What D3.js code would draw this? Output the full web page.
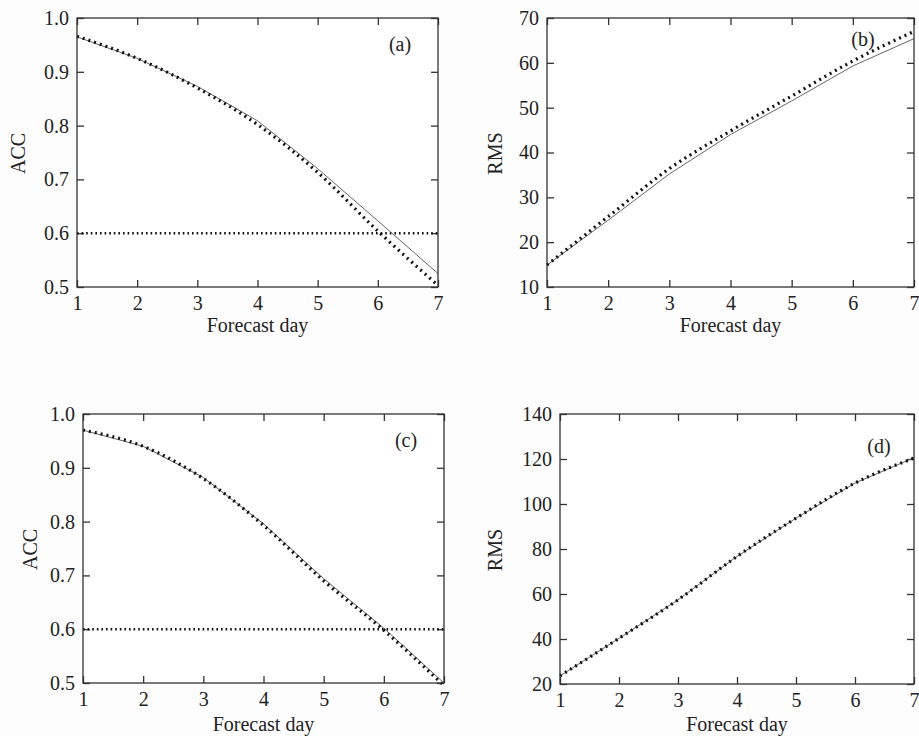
<!DOCTYPE html>
<html>
<head>
<meta charset="utf-8">
<script src="https://cdn.jsdelivr.net/npm/d3@7"></script>
<style>
  body { margin: 0; background: #fdfdfd; }
  text { font-family: "Liberation Serif", "Times New Roman", serif; fill: #222; }
</style>
</head>
<body>
<script>
// forecast days shared by every panel
const days = [1, 2, 3, 4, 5, 6, 7]

// (a) ACC, thin solid line and heavy dotted line
const accSolidA = [0.965, 0.925, 0.873, 0.809, 0.720, 0.623, 0.525]
const accDotA = [0.966, 0.925, 0.870, 0.802, 0.713, 0.604, 0.503]
// (b) RMS
const rmsSolidB = [14.9, 24.9, 35.2, 44.0, 51.5, 59.3, 65.4]
const rmsDotB = [14.9, 25.7, 36.4, 44.8, 52.6, 60.4, 67.0]
// (c) ACC
const accSolidC = [0.970, 0.940, 0.882, 0.796, 0.694, 0.602, 0.500]
const accDotC = [0.970, 0.940, 0.880, 0.793, 0.690, 0.598, 0.495]
// (d) RMS
const rmsSolidD = [23.6, 40.3, 57.4, 76.7, 93.7, 109.3, 120.6]
const rmsDotD = [23.6, 40.3, 57.4, 76.7, 93.7, 109.3, 120.4]

const accTicks = [0.5, 0.6, 0.7, 0.8, 0.9, 1.0]
const rmsTicksB = [10, 20, 30, 40, 50, 60, 70]
const rmsTicksD = [20, 40, 60, 80, 100, 120, 140]
const accThreshold = 0.6

const panels = [
  { tag: '(a)', ylab: 'ACC', solid: accSolidA, dot: accDotA, ticks: accTicks, fmt: d3.format('.1f'), ref: accThreshold,
    x0: 77, y0: 18, x1: 438, y1: 287, tagX: 400, tagY: 51, ylabX: 18, xlabY: 332 },
  { tag: '(b)', ylab: 'RMS', solid: rmsSolidB, dot: rmsDotB, ticks: rmsTicksB, fmt: d3.format('d'), ref: null,
    x0: 547, y0: 18, x1: 914, y1: 287, tagX: 863, tagY: 46, ylabX: 495, xlabY: 332 },
  { tag: '(c)', ylab: 'ACC', solid: accSolidC, dot: accDotC, ticks: accTicks, fmt: d3.format('.1f'), ref: accThreshold,
    x0: 83, y0: 414, x1: 444, y1: 683, tagX: 406, tagY: 447, ylabX: 30, xlabY: 731 },
  { tag: '(d)', ylab: 'RMS', solid: rmsSolidD, dot: rmsDotD, ticks: rmsTicksD, fmt: d3.format('d'), ref: null,
    x0: 560, y0: 414, x1: 914, y1: 684, tagX: 879, tagY: 453, ylabX: 495, xlabY: 731 }
]

const svg = d3.select('body').append('svg')
  .attr('width', 919)
  .attr('height', 736)

panels.forEach(p => {
  const w = p.x1 - p.x0, h = p.y1 - p.y0
  const x = d3.scaleLinear().domain([1, 7]).range([0, w])
  const y = d3.scaleLinear().domain(d3.extent(p.ticks)).range([h, 0])

  const g = svg.append('g').attr('transform', 'translate(' + p.x0 + ',' + p.y0 + ')')

  g.append('rect').attr('width', w).attr('height', h).attr('fill', '#fff')

  // inward ticks on all four sides
  const bottom = g.append('g').attr('transform', 'translate(0,' + h + ')')
    .call(d3.axisBottom(x).tickValues(days).tickFormat(d3.format('d')).tickSize(-7).tickSizeOuter(0).tickPadding(9))
  const top = g.append('g')
    .call(d3.axisTop(x).tickValues(days).tickFormat('').tickSize(-7).tickSizeOuter(0))
  const left = g.append('g')
    .call(d3.axisLeft(y).tickValues(p.ticks).tickFormat(p.fmt).tickSize(-7).tickSizeOuter(0).tickPadding(8))
  const right = g.append('g').attr('transform', 'translate(' + w + ',0)')
    .call(d3.axisRight(y).tickValues(p.ticks).tickFormat('').tickSize(-7).tickSizeOuter(0))

  ;[bottom, top, left, right].forEach(a => {
    a.attr('font-family', null)
    a.selectAll('.domain').remove()
    a.selectAll('line').attr('stroke', '#333').attr('stroke-width', 1.3)
    a.selectAll('text').style('font-size', '20px').attr('fill', '#222')
      .style('font-family', '"Liberation Serif", "Times New Roman", serif')
  })

  if (p.ref !== null) {
    g.append('line')
      .attr('x1', 0).attr('x2', w)
      .attr('y1', y(p.ref)).attr('y2', y(p.ref))
      .attr('stroke', '#111').attr('stroke-width', 2.6)
      .attr('stroke-dasharray', '1.6,3')
  }

  const solidLine = d3.line().x((d, i) => x(days[i])).y(d => y(d))
  const dotLine = d3.line().x((d, i) => x(days[i])).y(d => y(d)).curve(d3.curveMonotoneX)

  g.append('path').datum(p.solid)
    .attr('d', solidLine)
    .attr('fill', 'none').attr('stroke', '#666').attr('stroke-width', 1)

  g.append('path').datum(p.dot)
    .attr('d', dotLine)
    .attr('fill', 'none').attr('stroke', '#111').attr('stroke-width', 3.2)
    .attr('stroke-dasharray', '2,4')

  g.append('rect').attr('width', w).attr('height', h)
    .attr('fill', 'none').attr('stroke', '#333').attr('stroke-width', 1.3)

  svg.append('text')
    .attr('x', p.tagX).attr('y', p.tagY)
    .attr('text-anchor', 'middle')
    .style('font-size', '20px')
    .text(p.tag)

  svg.append('text')
    .attr('transform', 'translate(' + p.ylabX + ',' + ((p.y0 + p.y1) / 2 + 1) + ') rotate(-90)')
    .attr('text-anchor', 'middle')
    .attr('dy', '0.35em')
    .style('font-size', '20px')
    .text(p.ylab)

  svg.append('text')
    .attr('x', (p.x0 + p.x1) / 2)
    .attr('y', p.xlabY)
    .attr('text-anchor', 'middle')
    .style('font-size', '20px')
    .text('Forecast day')
})
</script>
</body>
</html>
